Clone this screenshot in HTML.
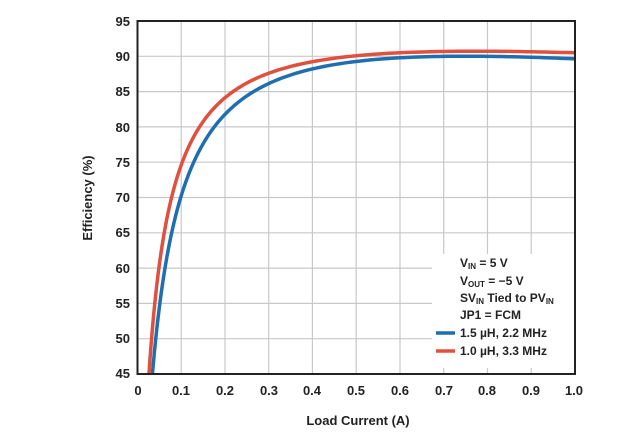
<!DOCTYPE html><html><head><style>body{margin:0;background:#fff}svg text{font-family:"Liberation Sans",sans-serif;font-weight:bold;fill:#222}</style></head><body>
<svg width="639" height="441" xmlns="http://www.w3.org/2000/svg">
<defs><clipPath id="cp"><rect x="137.5" y="21" width="437.5" height="353"/></clipPath></defs>
<g stroke="#c8c8c8" stroke-width="1.2">
<line x1="181.2" y1="21" x2="181.2" y2="374"/><line x1="225" y1="21" x2="225" y2="374"/><line x1="268.7" y1="21" x2="268.7" y2="374"/><line x1="312.4" y1="21" x2="312.4" y2="374"/><line x1="356.2" y1="21" x2="356.2" y2="374"/><line x1="400" y1="21" x2="400" y2="374"/><line x1="443.7" y1="21" x2="443.7" y2="374"/><line x1="487.5" y1="21" x2="487.5" y2="374"/><line x1="531.2" y1="21" x2="531.2" y2="374"/>
<line x1="137.5" y1="56.3" x2="575" y2="56.3"/><line x1="137.5" y1="91.6" x2="575" y2="91.6"/><line x1="137.5" y1="126.9" x2="575" y2="126.9"/><line x1="137.5" y1="162.2" x2="575" y2="162.2"/><line x1="137.5" y1="197.5" x2="575" y2="197.5"/><line x1="137.5" y1="232.8" x2="575" y2="232.8"/><line x1="137.5" y1="268.1" x2="575" y2="268.1"/><line x1="137.5" y1="303.4" x2="575" y2="303.4"/><line x1="137.5" y1="338.7" x2="575" y2="338.7"/>
</g>
<rect x="432" y="254" width="142" height="114" fill="#fff"/>
<g clip-path="url(#cp)">
<path id="pb" fill="none" stroke="#1f6fb0" stroke-width="3.5" stroke-linejoin="round" d=""/>
<path id="pr" fill="none" stroke="#e0503f" stroke-width="3.5" stroke-linejoin="round" d=""/>
</g>
<rect x="137.5" y="21" width="437.5" height="353" fill="none" stroke="#222" stroke-width="2"/>
<g font-size="13" text-anchor="end">
<text x="130" y="26">95</text><text x="130" y="61">90</text><text x="130" y="96">85</text><text x="130" y="132">80</text><text x="130" y="167">75</text><text x="130" y="202">70</text><text x="130" y="237">65</text><text x="130" y="273">60</text><text x="130" y="308">55</text><text x="130" y="343">50</text><text x="130" y="378">45</text>
</g>
<g font-size="13" text-anchor="middle">
<text x="138" y="395">0</text><text x="181" y="395">0.1</text><text x="225" y="395">0.2</text><text x="269" y="395">0.3</text><text x="312" y="395">0.4</text><text x="356" y="395">0.5</text><text x="400" y="395">0.6</text><text x="444" y="395">0.7</text><text x="487" y="395">0.8</text><text x="531" y="395">0.9</text><text x="574" y="395">1.0</text>
<text x="358" y="425" font-size="13">Load Current (A)</text>
<text transform="translate(92,198) rotate(-90)" font-size="13">Efficiency (%)</text>
</g>
<g font-size="12">
<text x="460" y="267">V<tspan font-size="8" dy="2">IN</tspan><tspan dy="-2"> = 5 V</tspan></text>
<text x="460" y="285">V<tspan font-size="8" dy="2">OUT</tspan><tspan dy="-2"> = −5 V</tspan></text>
<text x="460" y="302">SV<tspan font-size="8" dy="2">IN</tspan><tspan dy="-2"> Tied to PV</tspan><tspan font-size="8" dy="2">IN</tspan></text>
<text x="460" y="319">JP1 = FCM</text>
<text x="460" y="337">1.5 µH, 2.2 MHz</text>
<text x="460" y="355">1.0 µH, 3.3 MHz</text>
</g>
<line x1="436" y1="333" x2="455" y2="333" stroke="#1f6fb0" stroke-width="3.5"/>
<line x1="436" y1="351" x2="455" y2="351" stroke="#e0503f" stroke-width="3.5"/>
</svg>
<script>
function mk(id,P0,a,R,start){var d="",pts=[];
for(var I=start;I<0.2;I+=0.002)pts.push(I);
for(var k=20;k<=100;k++)pts.push(k/100);
pts.forEach(function(I,i){var po=5*I,e=100*po/(po+P0+a*I+R*I*I);
var x=137.5+437.5*I,y=374-(e-45)*7.06;d+=(i?" L":"M")+x.toFixed(2)+","+y.toFixed(2);});
document.getElementById(id).setAttribute("d",d);}
mk("pb",0.208,0,0.37,0.025);
mk("pr",0.157,0.1055,0.2625,0.02);
</script>
</body></html>
